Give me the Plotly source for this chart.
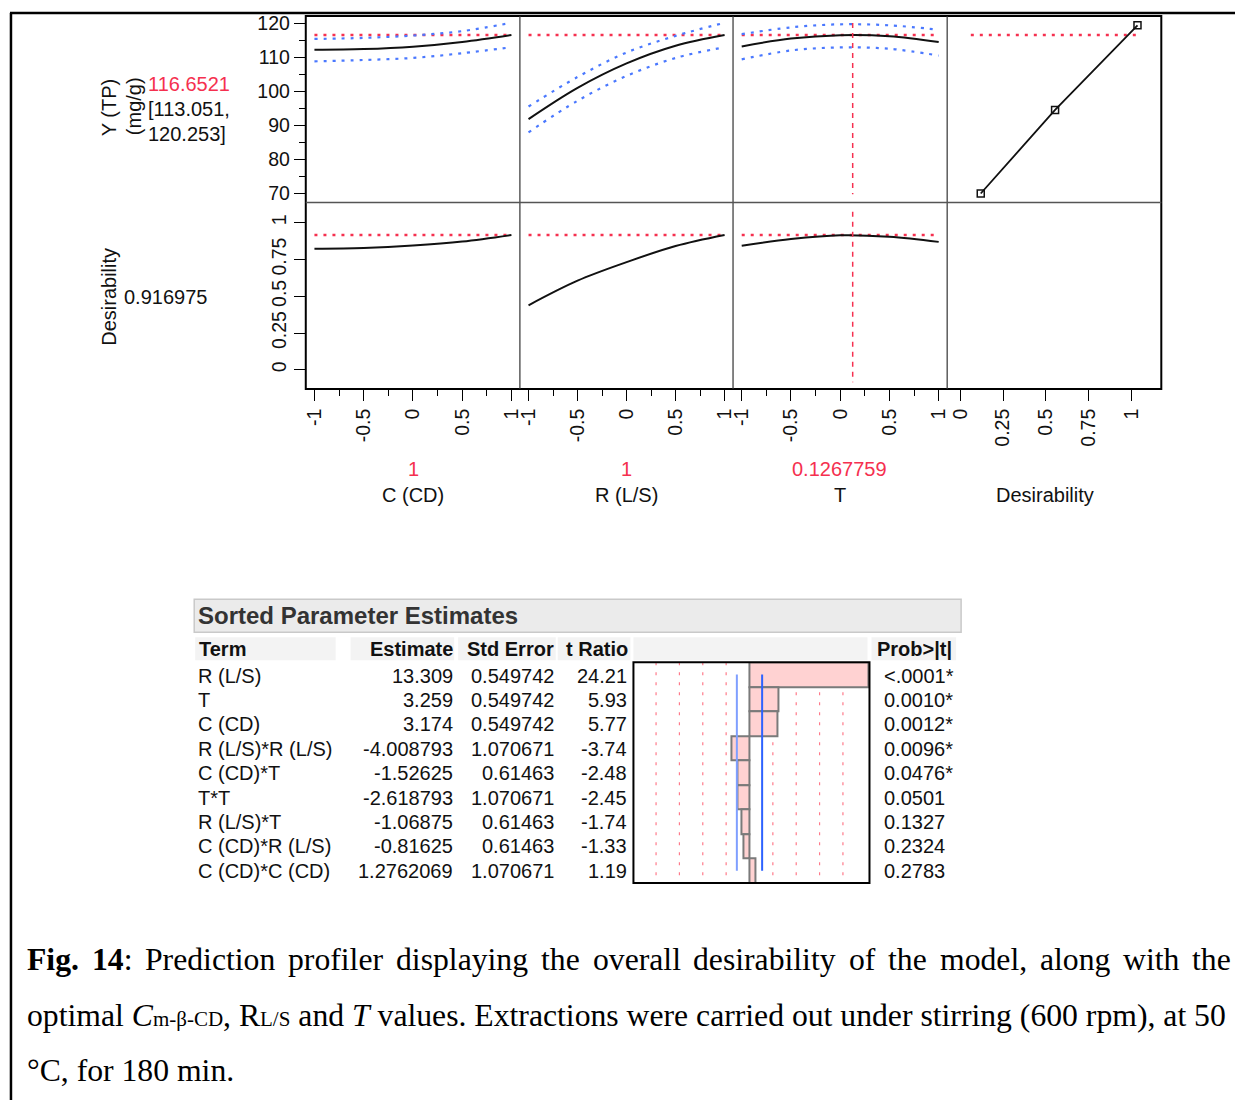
import plotly.graph_objects as go

W, H = 1237, 1102
def px(x): return x / W
def py(y): return 1 - y / H

# ---------------- data ----------------
factor_names = ["C (CD)", "R (L/S)", "T"]
factor_current = ["1", "1", "0.1267759"]
levels = [-1, -0.5, 0, 0.5, 1]

pred_C = [112.3, 112.5, 113.2, 114.6, 116.65]
upper_C = [115.5, 115.8, 116.5, 117.8, 120.25]
lower_C = [108.9, 109.3, 109.9, 111.3, 113.05]

pred_R = [91.9, 101.1, 108.3, 113.5, 116.65]
upper_R = [95.6, 104.3, 111.5, 116.4, 120.25]
lower_R = [88.0, 97.3, 104.6, 109.9, 113.05]

pred_T = [113.3, 115.6, 116.6, 116.3, 114.6]
upper_T = [116.9, 118.9, 119.8, 119.5, 118.2]
lower_T = [109.5, 112.1, 113.0, 112.6, 110.6]

des_C = [0.824, 0.829, 0.845, 0.872, 0.917]
des_R = [0.439, 0.606, 0.732, 0.842, 0.917]
des_T = [0.843, 0.889, 0.915, 0.905, 0.870]

y_opt = 116.6521
d_opt = 0.916975
t_opt = 0.1267759
ci_text = ["[113.051,", "120.253]"]

desir_fn_x = [0.12, 0.554, 1.035]
desir_fn_y = [70.0, 94.6, 119.5]

y_ticks = [70, 80, 90, 100, 110, 120]
d_ticks = [0, 0.25, 0.5, 0.75, 1]
d_ticklabels = ["0", "0.25", "0.5", "0.75", "1"]
f_ticks = [-1, -0.5, 0, 0.5, 1]
f_ticklabels = ["-1", "-0.5", "0", "0.5", "1"]

terms = ["R (L/S)", "T", "C (CD)", "R (L/S)*R (L/S)", "C (CD)*T", "T*T",
         "R (L/S)*T", "C (CD)*R (L/S)", "C (CD)*C (CD)"]
estimates = ["13.309", "3.259", "3.174", "-4.008793", "-1.52625", "-2.618793",
             "-1.06875", "-0.81625", "1.2762069"]
std_errors = ["0.549742", "0.549742", "0.549742", "1.070671", "0.61463",
              "1.070671", "0.61463", "0.61463", "1.070671"]
t_ratios = [24.21, 5.93, 5.77, -3.74, -2.48, -2.45, -1.74, -1.33, 1.19]
prob_t = ["<.0001*", "0.0010*", "0.0012*", "0.0096*", "0.0476*", "0.0501",
          "0.1327", "0.2324", "0.2783"]
t_crit = 2.57
t_ref_lines = [-19.0, -14.25, -9.5, -4.75, 4.75, 9.5, 14.25, 19.0]

caption_line1 = ["<b>Fig.</b>", "<b>14</b>:", "Prediction", "profiler", "displaying", "the",
                 "overall", "desirability", "of", "the", "model,", "along", "with", "the"]

# ---------------- styling ----------------
SANS = "Liberation Sans, Arial, sans-serif"
SERIF = "Liberation Serif, Times New Roman, serif"
RED = "#f5304f"
BLUE = "#4a78ff"
FS = 19.5
FA = 20

col_x = [304, 519, 733, 948, 1163]
row_y = [15, 202, 389]
f_range = [-1.088, 1.086]
d_xrange = [-0.076, 1.174]
y_range = [67.36, 122.26]
d_range = [-0.13, 1.138]

fig = go.Figure()
layout = {}

def ax_name(k, kind):
    return kind + ("" if k == 1 else str(k))

preds = [pred_C, pred_R, pred_T]
uppers = [upper_C, upper_R, upper_T]
lowers = [lower_C, lower_R, lower_T]
dess = [des_C, des_R, des_T]

for r in range(2):
    for c in range(4):
        k = r * 4 + c + 1
        xa, ya = ax_name(k, "xaxis"), ax_name(k, "yaxis")
        xr, yr = ax_name(k, "x"), ax_name(k, "y")
        xdict = dict(domain=[px(col_x[c]), px(col_x[c + 1])], anchor=yr,
                     range=f_range if c < 3 else d_xrange,
                     showgrid=False, zeroline=False, showline=False,
                     showticklabels=False, ticks="")
        if r == 1:
            xdict.update(showticklabels=True, ticks="outside", ticklen=11,
                         tickcolor="black", tickwidth=1, tickangle=-90,
                         tickfont=dict(family=SANS, size=FS, color="#111"))
            if c < 3:
                xdict.update(tickmode="array", tickvals=f_ticks, ticktext=f_ticklabels,
                             minor=dict(tickmode="linear", tick0=-1, dtick=0.25,
                                        ticks="outside", ticklen=6, tickcolor="black"))
            else:
                xdict.update(tickmode="array", tickvals=d_ticks, ticktext=d_ticklabels)
        ydict = dict(domain=[py(row_y[r + 1]), py(row_y[r] - (2 if r == 0 else 0))], anchor=xr,
                     range=y_range if r == 0 else d_range,
                     showgrid=False, zeroline=False, showline=False,
                     showticklabels=False, ticks="")
        if r == 0:
            ydict["range"] = [y_range[0], y_range[1] + 2 / 3.41]
        if c == 0:
            if r == 0:
                ydict.update(showticklabels=True, ticks="outside", ticklen=11,
                             tickcolor="black", tickmode="array", tickvals=y_ticks,
                             tickfont=dict(family=SANS, size=FS, color="#111"),
                             minor=dict(tickmode="linear", tick0=70, dtick=5,
                                        ticks="outside", ticklen=6, tickcolor="black"))
            else:
                ydict.update(showticklabels=True, ticks="outside", ticklen=11,
                             tickcolor="black", tickmode="array", tickvals=d_ticks,
                             ticktext=d_ticklabels, tickangle=-90,
                             tickfont=dict(family=SANS, size=FS, color="#111"))
        layout[xa] = xdict
        layout[ya] = ydict

        if c < 3:
            if r == 0:
                fig.add_trace(go.Scatter(x=[-1, 1], y=[y_opt, y_opt], mode="lines",
                                         line=dict(color=RED, width=2.5, dash="3px,6px"),
                                         xaxis=xr, yaxis=yr, hoverinfo="skip"))
                for band in (uppers[c], lowers[c]):
                    fig.add_trace(go.Scatter(x=levels, y=band, mode="lines", line_shape="spline",
                                             line=dict(color=BLUE, width=2.2, dash="3px,6px"),
                                             xaxis=xr, yaxis=yr, hoverinfo="skip"))
                fig.add_trace(go.Scatter(x=levels, y=preds[c], mode="lines", line_shape="spline",
                                         line=dict(color="#111", width=2),
                                         xaxis=xr, yaxis=yr, hoverinfo="skip"))
            else:
                fig.add_trace(go.Scatter(x=[-1, 1], y=[d_opt, d_opt], mode="lines",
                                         line=dict(color=RED, width=2.5, dash="3px,6px"),
                                         xaxis=xr, yaxis=yr, hoverinfo="skip"))
                fig.add_trace(go.Scatter(x=levels, y=dess[c], mode="lines", line_shape="spline",
                                         line=dict(color="#111", width=2),
                                         xaxis=xr, yaxis=yr, hoverinfo="skip"))
            if c == 2:
                vy = [120.2, 69.8] if r == 0 else [1.074, -0.085]
                fig.add_trace(go.Scatter(x=[t_opt, t_opt], y=vy, mode="lines",
                                         line=dict(color=RED, width=1.5, dash="5px,5px"),
                                         xaxis=xr, yaxis=yr, hoverinfo="skip"))
        elif r == 0:
            fig.add_trace(go.Scatter(x=[0.062, 1.05], y=[y_opt, y_opt], mode="lines",
                                     line=dict(color=RED, width=2.5, dash="3px,6px"),
                                     xaxis=xr, yaxis=yr, hoverinfo="skip"))
            fig.add_trace(go.Scatter(x=desir_fn_x, y=desir_fn_y, mode="lines+markers",
                                     line=dict(color="#111", width=1.8),
                                     marker=dict(symbol="square-open", size=7,
                                                 color="#111", line=dict(width=1.5)),
                                     xaxis=xr, yaxis=yr, hoverinfo="skip"))
        else:
            # empty panel: invisible point so the axis is drawn
            fig.add_trace(go.Scatter(x=[0.5], y=[0.5], mode="markers",
                                     marker=dict(opacity=0), xaxis=xr, yaxis=yr,
                                     hoverinfo="skip"))

# ---------------- parameter estimate bars ----------------
rows = list(range(len(terms)))
layout["xaxis9"] = dict(domain=[px(633), px(870)], anchor="y9", range=[-23.6, 24.4],
                        showgrid=False, zeroline=False, showticklabels=False, ticks="",
                        showline=False)
layout["yaxis9"] = dict(domain=[py(884.3), py(663)], anchor="x9", range=[8.5, -0.5],
                        showgrid=False, zeroline=False, showticklabels=False, ticks="",
                        showline=False)
fig.add_trace(go.Bar(x=t_ratios, y=rows, orientation="h", width=1,
                     marker=dict(color="#ffd2d2", line=dict(color="#7a7a7a", width=2)),
                     xaxis="x9", yaxis="y9", hoverinfo="skip"))
fig.add_trace(go.Scatter(x=[-t_crit, -t_crit], y=[0, 8], mode="lines",
                         line=dict(color="#7f9fff", width=2), xaxis="x9", yaxis="y9",
                         hoverinfo="skip"))
fig.add_trace(go.Scatter(x=[t_crit, t_crit], y=[0, 8], mode="lines",
                         line=dict(color="#2d62ff", width=2), xaxis="x9", yaxis="y9",
                         hoverinfo="skip"))

shapes = []
for tv in t_ref_lines:
    shapes.append(dict(type="line", xref="x9", yref="y9", x0=tv, x1=tv, y0=-0.5, y1=8.5,
                       layer="below", line=dict(color="#ff7a8a", width=1.2, dash="3px,7px")))

def rect(x0, y0, x1, y1, **kw):
    d = dict(type="rect", xref="paper", yref="paper", x0=px(x0), x1=px(x1),
             y0=py(y1), y1=py(y0))
    d.update(kw)
    return d

def hline(x0, x1, y, color="black", width=1):
    return dict(type="line", xref="paper", yref="paper", x0=px(x0), x1=px(x1),
                y0=py(y), y1=py(y), line=dict(color=color, width=width))

def vline(x, y0, y1, color="black", width=1):
    return dict(type="line", xref="paper", yref="paper", x0=px(x), x1=px(x),
                y0=py(y0), y1=py(y1), line=dict(color=color, width=width))

# page border
shapes.append(hline(7, 1237, 12, width=2.5))
shapes.append(vline(8, 12, 1102, width=2.5))
# profiler frame
shapes.append(rect(304, 15, 1163, 389, line=dict(color="black", width=2)))
for xv in col_x[1:4]:
    shapes.append(vline(xv, 15, 389, color="#333", width=1.2))
shapes.append(hline(304, 1163, 202, color="#555", width=1.5))
# table header
shapes.append(rect(192, 600, 962, 633, fillcolor="#ebebeb", line=dict(color="#c9c9c9", width=1.5),
                   layer="below"))
for (x0, x1) in [(193, 334), (349, 453), (457, 555), (557, 630), (633, 868), (872, 957)]:
    shapes.append(rect(x0, 638, x1, 661, fillcolor="#f3f3f3", line=dict(width=0), layer="below"))
shapes.append(rect(633, 663, 870, 884.3, line=dict(color="black", width=2)))

# ---------------- text ----------------
ann = []
def text(x, y, s, xanchor="left", yanchor="middle", size=FA, color="#111", family=SANS,
         angle=0):
    ann.append(dict(x=px(x), y=py(y), xref="paper", yref="paper", text=s, showarrow=False,
                    xanchor=xanchor, yanchor=yanchor, textangle=angle, borderpad=0,
                    font=dict(family=family, size=size, color=color)))

PAD = 1  # annotation inner padding compensation
text(106, 107, "Y (TP)", xanchor="center", angle=-90)
text(131, 105, "(mg/g)", xanchor="center", angle=-90)
text(146 - PAD, 83, f"{y_opt:.4f}", color=RED)
text(146 - PAD, 108, ci_text[0])
text(146 - PAD, 133, ci_text[1])
text(107, 297, "Desirability", xanchor="center", angle=-90)
text(121 - PAD, 297, f"{d_opt:.6f}")

name_x = [412, 626, 840, 1046]
for i in range(3):
    text(name_x[i], 469, factor_current[i], xanchor="center", color=RED)
    text(name_x[i], 495, factor_names[i], xanchor="center")
text(name_x[3], 495, "Desirability", xanchor="center")

text(196 - PAD, 616, "<b>Sorted Parameter Estimates</b>", size=24, color="#333")
text(197 - PAD, 650, "<b>Term</b>")
text(452 + PAD, 650, "<b>Estimate</b>", xanchor="right")
text(553 + PAD, 650, "<b>Std Error</b>", xanchor="right")
text(628 + PAD, 650, "<b>t Ratio</b>", xanchor="right")
text(878 - PAD, 650, "<b>Prob>|t|</b>")
for i in rows:
    yy = 676.5 + 24.45 * i
    text(196 - PAD, yy, terms[i])
    text(452 + PAD, yy, estimates[i], xanchor="right")
    text(553 + PAD, yy, std_errors[i], xanchor="right")
    text(627 + PAD, yy, f"{t_ratios[i]:.2f}", xanchor="right")
    text(885 - PAD, yy, prob_t[i])

# caption (Times metrics used only to justify line 1 across the text block)
CAP = 31.7
TIMES_W = {" ": 250, "a": 444, "b": 500, "c": 444, "d": 500, "e": 444, "f": 333, "g": 500,
           "h": 500, "i": 278, "j": 278, "k": 500, "l": 278, "m": 778, "n": 500, "o": 500,
           "p": 500, "q": 500, "r": 333, "s": 389, "t": 278, "u": 500, "v": 500, "w": 722,
           "x": 500, "y": 500, "z": 444, ",": 250, ".": 250, ":": 278, "P": 556, "F": 611}
def word_width(wd):
    plain = wd.replace("<b>", "").replace("</b>", "")
    return sum(TIMES_W.get(ch, 500) for ch in plain) * CAP / 1000.0
left_x, right_x = 24, 1233
widths = [word_width(wd) for wd in caption_line1]
gap = (right_x - left_x - sum(widths)) / (len(caption_line1) - 1)
xcur = left_x
for wd, wdt in zip(caption_line1, widths):
    text(xcur - PAD, 961, wd, size=CAP, family=SERIF, color="black")
    xcur += wdt + gap

small = "<span style='font-size:21px'>"
text(24 - PAD, 1017, "optimal <i>C</i>" + small + "m-β-CD</span>, R" + small + "L/S</span> and <i>T</i> values. "
     "Extractions were carried out under stirring (600 rpm), at 50", size=CAP, family=SERIF, color="black")
text(24 - PAD, 1072, "°C, for 180 min.", size=CAP, family=SERIF, color="black")

fig.update_layout(**layout)
fig.update_layout(width=W, height=H, margin=dict(l=0, r=0, t=0, b=0),
                  paper_bgcolor="white", plot_bgcolor="rgba(0,0,0,0)",
                  showlegend=False, shapes=shapes, annotations=ann, bargap=0)
fig.write_html("out.html")
